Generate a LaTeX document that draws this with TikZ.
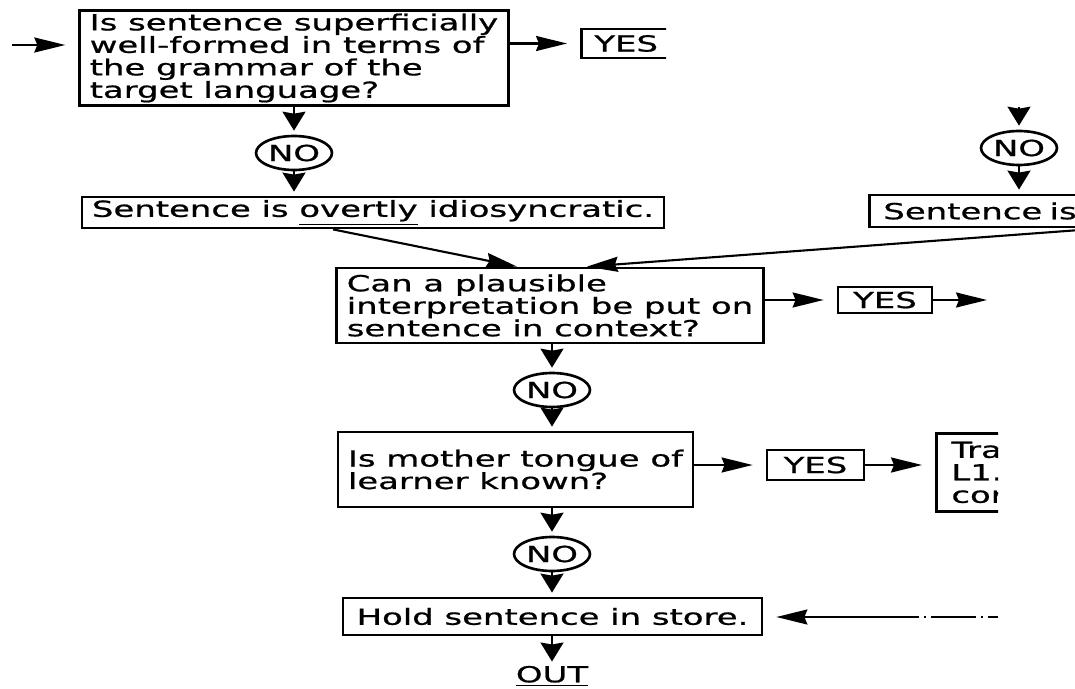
\documentclass[tikz,border=0pt]{standalone}
\usepackage{fontspec}
\setmainfont[FakeStretch=1.53, FakeBold=0.8]{DejaVu Sans}
\usetikzlibrary{arrows.meta,shapes.geometric}
\tikzset{
  box/.style={draw, line width=1.6pt, align=left, inner xsep=0.2cm, inner ysep=0.06cm},
  nobox/.style={draw, ellipse, line width=1.5pt, inner sep=0pt, minimum width=1.52cm, minimum height=0.68cm},
  varr/.style={line width=1.2pt, -{Stealth[length=0.38cm,width=0.46cm,inset=0.04cm]}, shorten >=0.08cm},
  harr/.style={line width=1.2pt, -{Stealth[length=0.62cm,width=0.3cm,inset=0.06cm]}, shorten >=0.26cm}
}

\begin{document}
\begin{tikzpicture}[x=0.02cm, y=-0.02cm, every node/.style={font=\fontsize{12.6}{12.8}\selectfont}]
  \useasboundingbox (0,0) rectangle (1075,689);
  \clip (0,0) rectangle (1075,689);

  % question boxes
  \node[box, minimum width=8.56cm, minimum height=1.88cm] (q1) at (294,58) {Is sentence superficially\\well-formed in terms of\\the grammar of the\\target language?};
  \node[box, minimum width=11.6cm, minimum height=0.62cm] (idio) at (373,212.5) {Sentence is \underline{overtly} idiosyncratic.};
  \node[box, anchor=west, text width=8.72cm, minimum height=0.64cm, inner xsep=0.28cm] (idio2) at (868,211) {Sentence is};
  \node[box, minimum width=8.52cm, minimum height=1.5cm] (plaus) at (550,305.5) {Can a plausible\\interpretation be put on\\sentence in context?};
  \node[box, minimum width=7.1cm, minimum height=1.5cm] (mother) at (515.5,469.5) {Is mother tongue of\\learner known?};
  \node[box, minimum width=8.38cm, minimum height=0.74cm] (store) at (552.5,616.5) {Hold sentence in store.};
  \node[inner sep=0pt] (out) at (552,676) {\underline{OUT}};

  % answers
  \node[nobox] (n1) at (294,153) {NO};
  \node[nobox] (nR) at (1019,148) {NO};
  \node[nobox] (n2) at (552,390) {NO};
  \node[nobox] (n3) at (552,554) {NO};
  \node[box, minimum width=1.88cm, minimum height=0.52cm, inner xsep=0pt] (yes2) at (885,300) {YES};
  \node[box, minimum width=1.94cm, minimum height=0.6cm, inner xsep=0pt] (yes3) at (815.5,465) {YES};
  \begin{scope}
    \clip (0,0) rectangle (666,120);
    \node[box, anchor=west, minimum height=0.58cm, inner xsep=0.26cm] (yes1) at (580,43.5) {YES};
  \end{scope}
  \begin{scope}
    \clip (900,400) rectangle (998,689);
    \node[box, anchor=north west, text width=3cm, minimum height=1.56cm, inner xsep=0.3cm] (tra) at (935,432) {Tra\\L1.\\cor};
  \end{scope}

  % loose ends
  \coordinate (in1) at (12,45);
  \coordinate (topR) at (1019,107);
  \coordinate (yesout) at (987,300);
  \coordinate (back) at (998,617);

  \path
    (in1) edge[harr] (in1 -| q1.west)
    (q1.east |- yes1.west) edge[harr] (yes1.west)
    (q1.south -| n1) edge[varr] (n1)
    (n1) edge[varr] (n1 |- idio.north)
    (topR) edge[varr] (nR)
    (nR) edge[varr] (nR |- idio2.north)
    ([xshift=-0.8cm]idio.south) edge[harr, shorten >=0pt] ([xshift=-0.66cm]plaus.north)
    (idio2.south) edge[harr, shorten >=0pt] ([xshift=0.74cm]plaus.north)
    (plaus.east |- yes2.west) edge[harr] (yes2.west)
    (yes2.east) edge[harr, shorten >=0pt] (yesout)
    (plaus.south -| n2) edge[varr] (n2)
    (n2) edge[varr] (n2 |- mother.north)
    (n2 |- mother.south) edge[varr] (n3)
    (n3) edge[varr] (n3 |- store.north)
    (store.south -| out) edge[varr] (out)
    (mother.east |- yes3.west) edge[harr] (yes3.west)
    (yes3.east) edge[harr] (yes3.east -| tra.west)
    (back) edge[harr, dash pattern=on 0.2cm off 0.1cm on 0.04cm off 0.1cm on 0.9cm off 0.1cm on 0.04cm off 0.1cm on 4cm] (back -| store.east);
\end{tikzpicture}
\end{document}
